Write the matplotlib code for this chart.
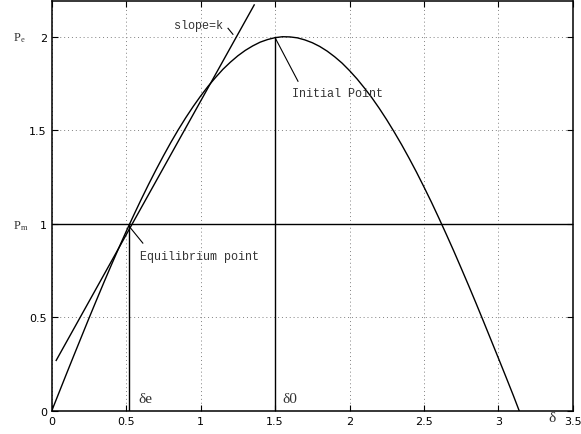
import numpy as np
import matplotlib
matplotlib.use("Agg")
import matplotlib.pyplot as plt

# power angle curve
delta = [0, 0.05, 0.1, 0.15, 0.2, 0.25, 0.3, 0.35, 0.4, 0.45, 0.5, 0.55,
         0.6, 0.65, 0.7, 0.75, 0.8, 0.85, 0.9, 0.95, 1.0, 1.05, 1.1, 1.15,
         1.2, 1.25, 1.3, 1.35, 1.4, 1.45, 1.5, 1.55, 1.6, 1.65, 1.7, 1.75,
         1.8, 1.85, 1.9, 1.95, 2.0, 2.05, 2.1, 2.15, 2.2, 2.25, 2.3, 2.35,
         2.4, 2.45, 2.5, 2.55, 2.6, 2.65, 2.7, 2.75, 2.8, 2.85, 2.9, 2.95,
         3.0, 3.05, 3.1, 3.14]
pe = [0, 0.100, 0.200, 0.299, 0.397, 0.495, 0.591, 0.686, 0.779, 0.870,
      0.959, 1.045, 1.129, 1.210, 1.288, 1.363, 1.435, 1.503, 1.567, 1.627,
      1.683, 1.735, 1.782, 1.826, 1.864, 1.898, 1.927, 1.951, 1.971, 1.985,
      1.995, 2.000, 1.999, 1.994, 1.983, 1.968, 1.948, 1.923, 1.893, 1.859,
      1.819, 1.775, 1.726, 1.674, 1.617, 1.556, 1.491, 1.423, 1.351, 1.276,
      1.197, 1.116, 1.031, 0.944, 0.855, 0.763, 0.670, 0.575, 0.478, 0.380,
      0.282, 0.183, 0.083, 0.0]

pm = 1.0
delta_e = 0.52
delta_0 = 1.5
pe_0 = 2.0
slope_x = [0.03, 1.36]
slope_y = [0.27, 2.17]

xticks = [0, 0.5, 1, 1.5, 2, 2.5, 3, 3.5]
yticks = [0, 0.5, 1, 1.5, 2]

fig = plt.figure(figsize=(5.81, 4.35), dpi=100)
ax = fig.add_axes([0.089, 0.053, 0.897, 0.942])

ax.plot(delta, pe, color='black', lw=1)
ax.plot([0, 3.5], [pm, pm], color='black', lw=1)
ax.plot(slope_x, slope_y, color='black', lw=1)
ax.plot([delta_e, delta_e], [0, pm], color='black', lw=1)
ax.plot([delta_0, delta_0], [0, pe_0], color='black', lw=1)

ax.set_xlim(0, 3.5)
ax.set_ylim(0, 2.19)
ax.set_xticks(xticks)
ax.set_xticklabels(['0', '0.5', '1', '1.5', '2', '2.5', '3', '3.5'])
ax.set_yticks(yticks)
ax.set_yticklabels(['0', '0.5', '1', '1.5', '2'])
ax.grid(True, linestyle=(0, (1, 3)), color='gray', lw=0.7)
ax.tick_params(direction='in', top=True, right=True, labelsize=8, length=4)
for s in ax.spines.values():
    s.set_linewidth(1.1)

mono = dict(family='Liberation Mono', fontsize=8.5, color='#333333')
serif = dict(family='Liberation Serif', color='#333333')

# leader lines and labels
ax.plot([1.184, 1.217], [2.045, 2.013], color='black', lw=0.8)
ax.text(1.15, 2.06, 'slope=k', ha='right', va='center', **mono)
ax.plot([1.506, 1.654], [1.986, 1.762], color='black', lw=0.8)
ax.text(1.614, 1.70, 'Initial Point', ha='left', va='center', **mono)
ax.plot([0.525, 0.612], [0.982, 0.897], color='black', lw=0.8)
ax.text(0.592, 0.83, 'Equilibrium point', ha='left', va='center', **mono)

ax.text(0.58, 0.05, '\u03b4e', fontsize=11, **serif)
ax.text(1.55, 0.05, '\u03b40', fontsize=11, **serif)
fig.text(0.943, 0.03, '\u03b4', fontsize=11, **serif)
fig.text(0.023, 0.905, 'P', fontsize=9, **serif)
fig.text(0.036, 0.903, 'e', fontsize=6, **serif)
fig.text(0.023, 0.473, 'P', fontsize=9, **serif)
fig.text(0.036, 0.471, 'm', fontsize=6, **serif)

fig.savefig('out.png', dpi=100)
